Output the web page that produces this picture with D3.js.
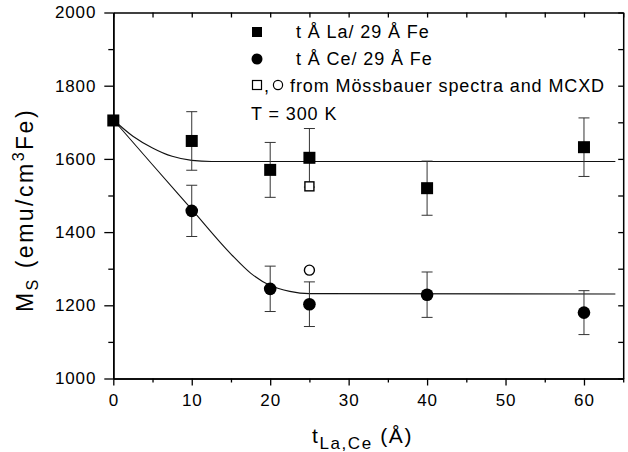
<!DOCTYPE html>
<html>
<head>
<meta charset="utf-8">
<script src="https://cdnjs.cloudflare.com/ajax/libs/d3/7.8.5/d3.min.js"></script>
<style>
  body { margin: 0; background: #fff; }
  svg text { font-family: Arial, "Liberation Sans", Helvetica, sans-serif; fill: #000; }
</style>
</head>
<body>
<svg width="628" height="452"></svg>
<script>
// La series (filled squares)
var laT   = [0, 10, 20, 25, 40, 60];
var laMs  = [1705, 1649, 1570, 1603, 1520, 1632];
var laErr = [0, 80, 75, 80, 74, 80];
// Ce series (filled circles), t = 0 shares the La point
var ceT   = [10, 20, 25, 40, 60];
var ceMs  = [1458, 1245, 1203, 1229, 1180];
var ceErr = [70, 62, 61, 62, 60];
// Mossbauer / MCXD open symbols
var mossT  = [25];
var mossLa = [1525];
var mossCe = [1296];
// guide curves
var laFitT  = [0, 2.5, 5, 7.5, 10, 12.5, 64];
var laFitMs = [1707, 1662, 1630, 1607, 1596, 1593, 1593];
var ceFitT  = [0, 5, 10, 15, 17.5, 20, 22.5, 25, 64];
var ceFitMs = [1707, 1584, 1462, 1340, 1288, 1254, 1238, 1232, 1231];
// ticks
var xMajor = [0, 10, 20, 30, 40, 50, 60];
var xMinor = [5, 15, 25, 35, 45, 55, 65];
var yMajor = [1000, 1200, 1400, 1600, 1800, 2000];
var yMinor = [1100, 1300, 1500, 1700, 1900];

var svg = d3.select("svg");
var pLeft = 113.3, pRight = 623.2, pTop = 12.5, pBottom = 378.5;

var x = d3.scaleLinear().domain([0, 65]).range([pLeft, pRight]);
var y = d3.scaleLinear().domain([1000, 2000]).range([pBottom, pTop]);

// axes
function styleAxis(g) {
  g.select(".domain").attr("stroke", "#000").attr("stroke-width", 1.5);
  g.selectAll(".tick line").attr("stroke", "#000").attr("stroke-width", 1.3);
  g.selectAll(".tick text").attr("font-size", 17).attr("letter-spacing", 0.9)
    .attr("font-family", "Arial, 'Liberation Sans', sans-serif").attr("fill", "#000");
}

svg.append("g").attr("transform", "translate(0," + pBottom + ")")
  .call(d3.axisBottom(x).tickValues(xMajor).tickFormat(d3.format("d")).tickSize(7).tickPadding(8).tickSizeOuter(0))
  .call(styleAxis);
svg.append("g").attr("transform", "translate(0," + pBottom + ")")
  .call(d3.axisBottom(x).tickValues(xMinor).tickSize(4).tickFormat("").tickSizeOuter(0))
  .call(styleAxis);

svg.append("g").attr("transform", "translate(" + pLeft + ",0)")
  .call(d3.axisLeft(y).tickValues(yMajor).tickFormat(d3.format("d")).tickSize(9).tickPadding(8).tickSizeOuter(0))
  .call(styleAxis);
svg.append("g").attr("transform", "translate(" + pLeft + ",0)")
  .call(d3.axisLeft(y).tickValues(yMinor).tickSize(5).tickFormat("").tickSizeOuter(0))
  .call(styleAxis);

svg.append("g").attr("transform", "translate(0," + pTop + ")")
  .call(d3.axisTop(x).tickValues(xMajor.concat(xMinor)).tickSize(-5).tickFormat("").tickSizeOuter(0))
  .call(styleAxis);
svg.append("g").attr("transform", "translate(" + pRight + ",0)")
  .call(d3.axisRight(y).tickValues(yMajor.concat(yMinor)).tickSize(-5).tickFormat("").tickSizeOuter(0))
  .call(styleAxis);

// guide curves
var line = d3.line().x(function(d){ return x(d[0]); }).y(function(d){ return y(d[1]); })
  .curve(d3.curveMonotoneX);
svg.append("path").datum(d3.zip(laFitT, laFitMs)).attr("d", line)
  .attr("fill", "none").attr("stroke", "#111").attr("stroke-width", 1.1);
svg.append("path").datum(d3.zip(ceFitT, ceFitMs)).attr("d", line)
  .attr("fill", "none").attr("stroke", "#111").attr("stroke-width", 1.1);

// error bars
function errorBars(ts, ms, es) {
  var g = svg.append("g").attr("stroke", "#333").attr("stroke-width", 1);
  ts.forEach(function(t, i) {
    if (!es[i]) return;
    var cx = x(t), y1 = y(ms[i] + es[i]), y2 = y(ms[i] - es[i]);
    g.append("line").attr("x1", cx).attr("x2", cx).attr("y1", y1).attr("y2", y2);
    g.append("line").attr("x1", cx - 5.5).attr("x2", cx + 5.5).attr("y1", y1).attr("y2", y1);
    g.append("line").attr("x1", cx - 5.5).attr("x2", cx + 5.5).attr("y1", y2).attr("y2", y2);
  });
}
errorBars(laT, laMs, laErr);
errorBars(ceT, ceMs, ceErr);

// markers
svg.selectAll(".la").data(d3.zip(laT, laMs)).enter().append("rect")
  .attr("x", function(d){ return x(d[0]) - 6; }).attr("y", function(d){ return y(d[1]) - 6; })
  .attr("width", 12).attr("height", 12).attr("fill", "#000");
svg.selectAll(".ce").data(d3.zip(ceT, ceMs)).enter().append("circle")
  .attr("cx", function(d){ return x(d[0]); }).attr("cy", function(d){ return y(d[1]); })
  .attr("r", 6.3).attr("fill", "#000");
svg.selectAll(".mla").data(d3.zip(mossT, mossLa)).enter().append("rect")
  .attr("x", function(d){ return x(d[0]) - 4.5; }).attr("y", function(d){ return y(d[1]) - 4.5; })
  .attr("width", 9).attr("height", 9).attr("fill", "#fff").attr("stroke", "#000").attr("stroke-width", 1.4);
svg.selectAll(".mce").data(d3.zip(mossT, mossCe)).enter().append("circle")
  .attr("cx", function(d){ return x(d[0]); }).attr("cy", function(d){ return y(d[1]); })
  .attr("r", 5).attr("fill", "#fff").attr("stroke", "#000").attr("stroke-width", 1.4);

// legend
var lg = svg.append("g");
lg.append("rect").attr("x", 252).attr("y", 27).attr("width", 10).attr("height", 10).attr("fill", "#000");
lg.append("circle").attr("cx", 257).attr("cy", 59).attr("r", 5.5).attr("fill", "#000");
lg.append("rect").attr("x", 252.5).attr("y", 80.5).attr("width", 9).attr("height", 9)
  .attr("fill", "none").attr("stroke", "#000").attr("stroke-width", 1.2);
lg.append("circle").attr("cx", 278).attr("cy", 85).attr("r", 4.6)
  .attr("fill", "none").attr("stroke", "#000").attr("stroke-width", 1.2);
function legText(tx, ty, s) {
  lg.append("text").attr("x", tx).attr("y", ty).attr("font-size", 18)
    .attr("letter-spacing", 0.9).text(s);
}
legText(296, 38, "t Å La/ 29 Å Fe");
legText(296, 65, "t Å Ce/ 29 Å Fe");
legText(264, 92, ",");
legText(290, 92, "from Mössbauer spectra and MCXD");
legText(251, 120, "T = 300 K");

// axis titles
var xt = svg.append("text").attr("x", 312).attr("y", 443).attr("font-size", 21).attr("letter-spacing", 1.6);
xt.append("tspan").text("t");
xt.append("tspan").attr("font-size", 17).attr("dy", 6).text("La,Ce");
xt.append("tspan").attr("dy", -6).text(" (Å)");

var yt = svg.append("text").attr("transform", "translate(33,210) rotate(-90)")
  .attr("text-anchor", "middle").attr("font-size", 23).attr("letter-spacing", 2.5);
yt.append("tspan").text("M");
yt.append("tspan").attr("font-size", 16).attr("dy", 5).text("S");
yt.append("tspan").attr("dy", -5).text(" (emu/cm");
yt.append("tspan").attr("font-size", 16).attr("dy", -9).text("3");
yt.append("tspan").attr("dy", 9).text("Fe)");
</script>
</body>
</html>
